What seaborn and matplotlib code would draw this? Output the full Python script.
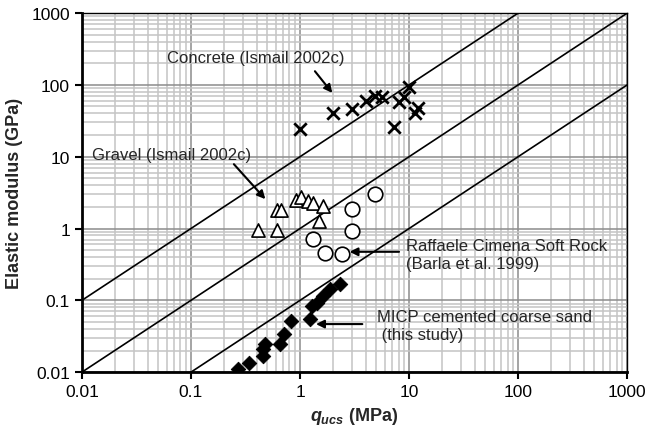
import numpy as np
import pandas as pd
import seaborn as sns
import matplotlib.pyplot as plt
from matplotlib.ticker import LogLocator, FixedFormatter, FixedLocator

# Dados
concreto_q = [1.0, 2.0, 3.0, 4.0, 4.9, 5.6, 8.0, 7.2, 9.9, 8.9, 11.4, 12.0]
concreto_E = [24, 40, 46, 60, 70, 67, 57, 26, 92, 67, 41, 48]

cascalho_q = [0.41, 0.61, 0.61, 0.67, 0.92, 1.01, 1.19, 1.31, 1.62, 1.50]
cascalho_E = [0.96, 0.96, 1.82, 1.82, 2.51, 2.71, 2.43, 2.26, 2.03, 1.28]

rocha_q = [4.9, 3.0, 3.0, 1.31, 1.70, 2.41]
rocha_E = [3.0, 1.86, 0.93, 0.71, 0.46, 0.44]

micp_q = [0.27, 0.34, 0.46, 0.46, 0.48, 0.66, 0.72, 0.82, 1.24, 1.28, 1.42, 1.64, 1.88, 2.33]
micp_E = [0.011, 0.0133, 0.017, 0.021, 0.0245, 0.0245, 0.034, 0.052, 0.055, 0.084,
          0.093, 0.116, 0.143, 0.168]

# Retas E/q constantes (GPa/MPa)
razoes = [10, 1, 0.1]
q_reta = [0.01, 1000]

ticks = [0.01, 0.1, 1, 10, 100, 1000]
tick_labels = ["0.01", "0.1", "1", "10", "100", "1000"]

sns.set_style("white")
plt.rcParams['font.family'] = ['Liberation Sans', 'DejaVu Sans']
plt.rcParams['mathtext.fontset'] = 'custom'
plt.rcParams['mathtext.it'] = 'Liberation Sans:bold:italic'
plt.rcParams['mathtext.rm'] = 'Liberation Sans:bold'

fig = plt.figure(figsize=(6.5, 4.39), dpi=100)
ax = fig.add_axes([0.126, 0.150, 0.839, 0.818])
ax.set_xscale("log")
ax.set_yscale("log")

for r in razoes:
    df_r = pd.DataFrame({"q": q_reta, "E": [r * v for v in q_reta]})
    sns.lineplot(data=df_r, x="q", y="E", ax=ax, color="black", linewidth=1.2, zorder=3)

sns.scatterplot(x=concreto_q, y=concreto_E, ax=ax, marker="x", s=80, color="black",
                linewidth=2, zorder=4)
sns.scatterplot(x=cascalho_q, y=cascalho_E, ax=ax, marker="^", s=90, facecolor="white",
                edgecolor="black", linewidth=1.2, zorder=4)
sns.scatterplot(x=rocha_q, y=rocha_E, ax=ax, marker="o", s=110, facecolor="white",
                edgecolor="black", linewidth=1.2, zorder=4)
sns.scatterplot(x=micp_q, y=micp_E, ax=ax, marker="D", s=55, color="black",
                edgecolor="black", zorder=4)

ax.set_xlim(0.01, 1000)
ax.set_ylim(0.01, 1000)

ax.xaxis.set_major_locator(FixedLocator(ticks))
ax.xaxis.set_major_formatter(FixedFormatter(tick_labels))
ax.yaxis.set_major_locator(FixedLocator(ticks))
ax.yaxis.set_major_formatter(FixedFormatter(tick_labels))
ax.xaxis.set_minor_locator(LogLocator(base=10, subs=np.arange(2, 10), numticks=20))
ax.yaxis.set_minor_locator(LogLocator(base=10, subs=np.arange(2, 10), numticks=20))

ax.grid(True, which="major", color="#8c8c8c", linewidth=1.1, zorder=0)
ax.grid(True, which="minor", color="#c4c4c4", linewidth=1.1, zorder=0)
ax.set_axisbelow(True)

ax.tick_params(axis="both", which="major", labelsize=12.5, length=5, width=1.5,
               direction="out", bottom=True, left=True, colors="black")
ax.tick_params(axis="both", which="minor", length=0)
for lado in ["left", "bottom"]:
    ax.spines[lado].set_linewidth(2)
    ax.spines[lado].set_color("black")
for lado in ["top", "right"]:
    ax.spines[lado].set_linewidth(1)
    ax.spines[lado].set_color("black")

ax.set_xlabel(r"$q_{ucs}$ (MPa)", fontsize=13, fontweight="bold", labelpad=4)
ax.set_ylabel("Elastic modulus (GPa)", fontsize=13, fontweight="bold", labelpad=6)

seta = dict(arrowstyle="-|>", color="black", lw=1.5, mutation_scale=12)
fonte = 12
ax.annotate("Concrete (Ismail 2002c)", xy=(0.06, 244), fontsize=fonte,
            va="center", ha="left")
ax.annotate("", xy=(2.05, 72), xytext=(1.32, 166), arrowprops=seta)
ax.annotate("Gravel (Ismail 2002c)", xy=(0.0124, 10.9), fontsize=fonte,
            va="center", ha="left")
ax.annotate("", xy=(0.5, 2.4), xytext=(0.238, 8.4), arrowprops=seta)
ax.annotate("Raffaele Cimena Soft Rock\n(Barla et al. 1999)", xy=(9.4, 0.44), fontsize=fonte,
            va="center", ha="left", linespacing=1.25)
ax.annotate("", xy=(2.68, 0.474), xytext=(8.57, 0.474), arrowprops=seta)
ax.annotate("MICP cemented coarse sand\n (this study)", xy=(5.05, 0.045), fontsize=fonte,
            va="center", ha="left", linespacing=1.25)
ax.annotate("", xy=(1.32, 0.0467), xytext=(3.95, 0.0467), arrowprops=seta)

fig.savefig("out.png", dpi=100)
